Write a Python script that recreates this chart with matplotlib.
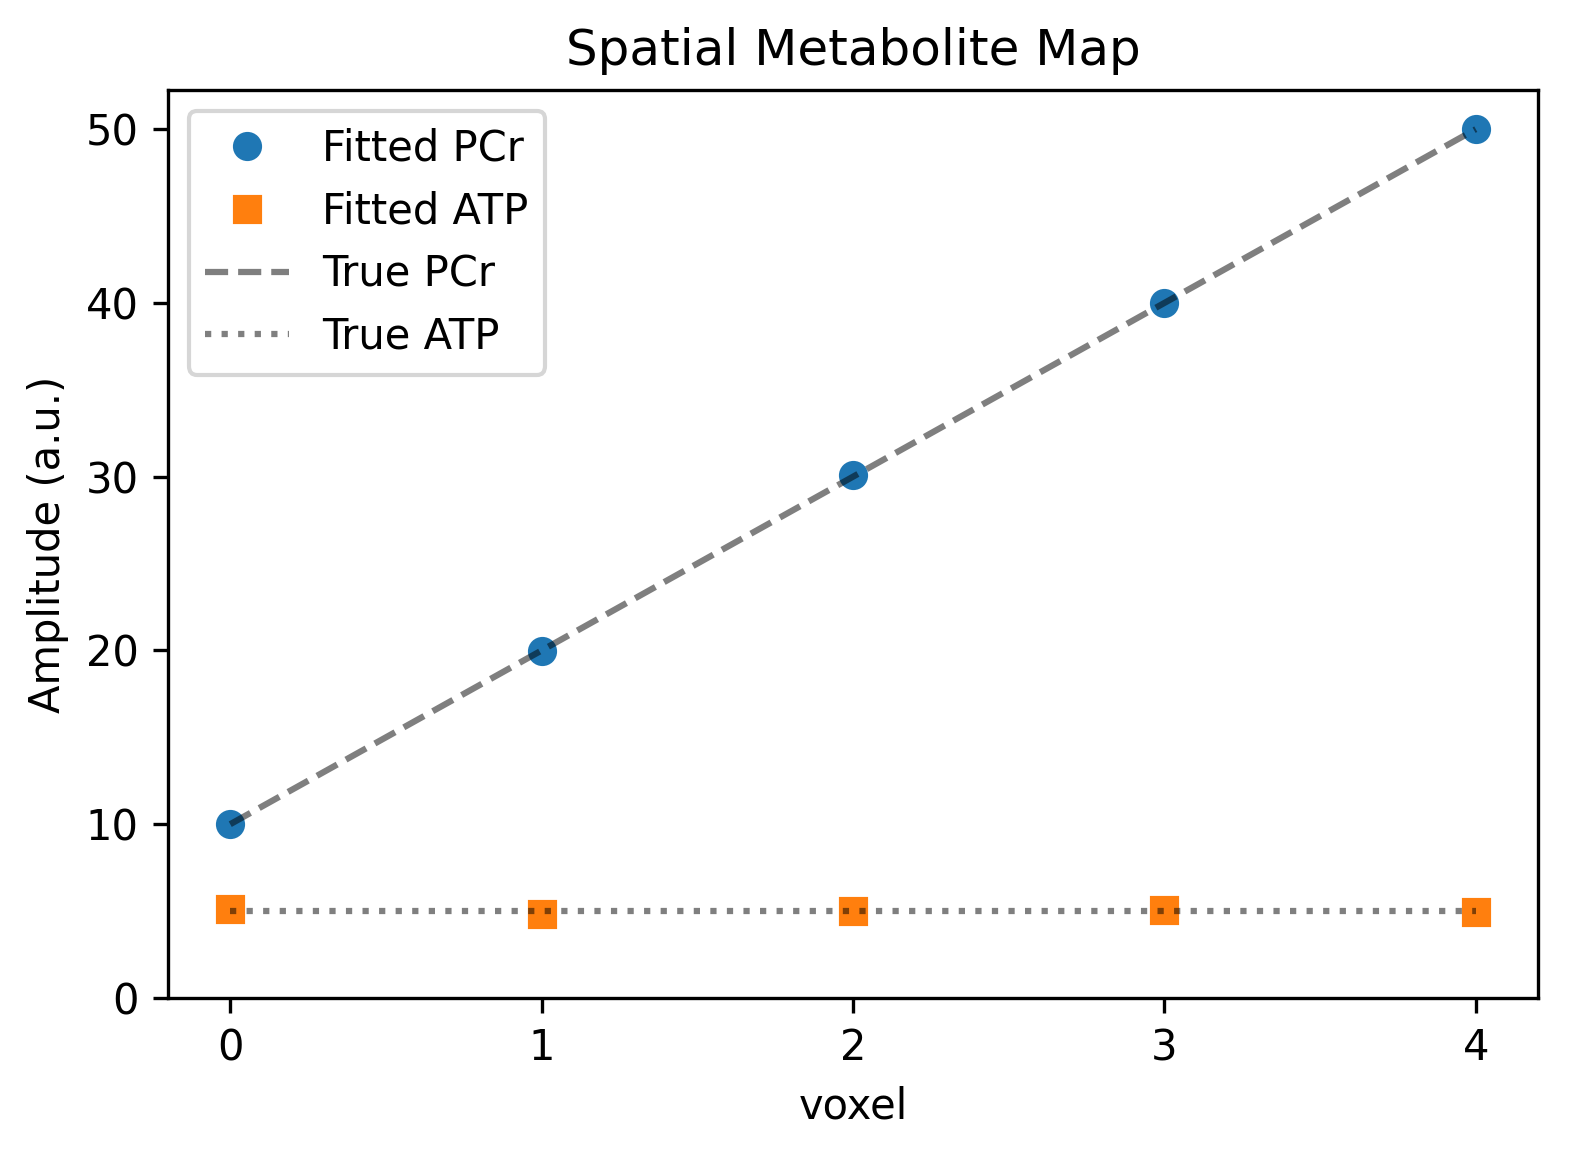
import numpy as np
import matplotlib
matplotlib.use('Agg')
import matplotlib.pyplot as plt

# Data
voxel = [0, 1, 2, 3, 4]
fitted_pcr = [10.0, 19.95, 30.1, 40.0, 50.0]
fitted_atp = [5.12, 4.84, 5.01, 5.07, 4.95]
true_pcr = [10, 20, 30, 40, 50]
true_atp = [5, 5, 5, 5, 5]

fig = plt.figure(figsize=(1595 / 300, 1176 / 300), dpi=300)
ax = fig.add_subplot(111)
fig.subplots_adjust(left=0.1053, right=0.9643, top=0.9235, bottom=0.1514)

ax.plot(voxel, fitted_pcr, 'o', label='Fitted PCr')
ax.plot(voxel, fitted_atp, 's', label='Fitted ATP')
ax.plot(voxel, true_pcr, 'k--', alpha=0.5, label='True PCr')
ax.plot(voxel, true_atp, 'k:', alpha=0.5, label='True ATP')

ax.set_xticks(voxel)
ax.set_ylim(bottom=0)
ax.set_xlabel('voxel')
ax.set_ylabel('Amplitude (a.u.)')
ax.set_title('Spatial Metabolite Map')
ax.legend()

fig.savefig('out.png', dpi=300)
